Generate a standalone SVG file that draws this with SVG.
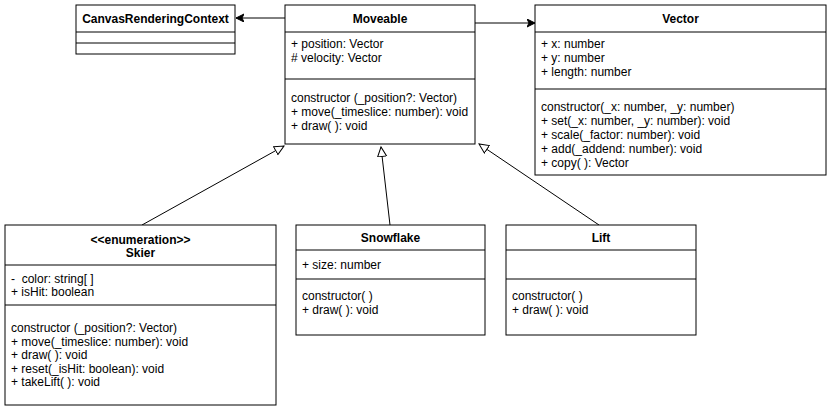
<svg xmlns="http://www.w3.org/2000/svg" width="831" height="414" viewBox="0 0 831 414">
<style>
.box{fill:#fff;stroke:#000;stroke-width:1}
.sep{stroke:#000;stroke-width:1;fill:none}
text{font-family:"Liberation Sans",Arial,sans-serif;font-size:12px;fill:#000;white-space:pre}
.t{font-weight:bold;text-anchor:middle}
.c{stroke:#000;stroke-width:1;fill:none}
</style>
<defs>
<marker id="arr" markerWidth="10" markerHeight="10" refX="8" refY="4" orient="auto" markerUnits="userSpaceOnUse">
<path d="M0,0 L8,4 L0,8 L2,4 Z" fill="#000" stroke="#000"/>
</marker>
<marker id="tri" markerWidth="14" markerHeight="14" refX="10" refY="5" orient="auto" markerUnits="userSpaceOnUse">
<path d="M0.5,0.5 L10,5 L0.5,9.5 Z" fill="#fff" stroke="#000"/>
</marker>
</defs>
<g id="connectors">
<line class="c" x1="285" y1="18" x2="236" y2="18" marker-end="url(#arr)"/>
<line class="c" x1="475" y1="23" x2="535" y2="23" marker-end="url(#arr)"/>
<line class="c" x1="142" y1="225" x2="284" y2="146" marker-end="url(#tri)"/>
<line class="c" x1="390" y1="225" x2="381" y2="147" marker-end="url(#tri)"/>
<line class="c" x1="599" y1="225" x2="479" y2="144" marker-end="url(#tri)"/>
</g>
<g id="CanvasRenderingContext">
<rect class="box" x="76" y="5" width="159" height="49"/>
<line class="sep" x1="76" y1="32" x2="235" y2="32"/>
<line class="sep" x1="76" y1="43" x2="235" y2="43"/>
<text class="t" x="155.5" y="23">CanvasRenderingContext</text>
</g>
<g id="Moveable">
<rect class="box" x="285" y="5" width="190" height="139"/>
<line class="sep" x1="285" y1="32" x2="475" y2="32"/>
<line class="sep" x1="285" y1="79" x2="475" y2="79"/>
<text class="t" x="380" y="23">Moveable</text>
<text x="291" y="48">+ position: Vector</text>
<text x="291" y="62"># velocity: Vector</text>
<text x="291" y="102">constructor (_position?: Vector)</text>
<text x="291" y="116">+ move(_timeslice: number): void</text>
<text x="291" y="130">+ draw( ): void</text>
</g>
<g id="Vector">
<rect class="box" x="535" y="5" width="291" height="170"/>
<line class="sep" x1="535" y1="32" x2="826" y2="32"/>
<line class="sep" x1="535" y1="89" x2="826" y2="89"/>
<text class="t" x="680.5" y="23">Vector</text>
<text x="541" y="48">+ x: number</text>
<text x="541" y="62">+ y: number</text>
<text x="541" y="76">+ length: number</text>
<text x="541" y="111">constructor(_x: number, _y: number)</text>
<text x="541" y="125">+ set(_x: number, _y: number): void</text>
<text x="541" y="139">+ scale(_factor: number): void</text>
<text x="541" y="153">+ add(_addend: number): void</text>
<text x="541" y="167">+ copy( ): Vector</text>
</g>
<g id="Skier">
<rect class="box" x="5" y="225" width="271" height="180"/>
<line class="sep" x1="5" y1="265" x2="276" y2="265"/>
<line class="sep" x1="5" y1="305" x2="276" y2="305"/>
<text class="t" x="140.5" y="244">&lt;&lt;enumeration&gt;&gt;</text>
<text class="t" x="140.5" y="257">Skier</text>
<text x="11" y="283">-&#160; color: string[ ]</text>
<text x="11" y="296">+ isHit: boolean</text>
<text x="11" y="332">constructor (_position?: Vector)</text>
<text x="11" y="345.5">+ move(_timeslice: number): void</text>
<text x="11" y="359">+ draw( ): void</text>
<text x="11" y="372.5">+ reset(_isHit: boolean): void</text>
<text x="11" y="386">+ takeLift( ): void</text>
</g>
<g id="Snowflake">
<rect class="box" x="296" y="225" width="189" height="110"/>
<line class="sep" x1="296" y1="250" x2="485" y2="250"/>
<line class="sep" x1="296" y1="279" x2="485" y2="279"/>
<text class="t" x="390.5" y="242">Snowflake</text>
<text x="302" y="269">+ size: number</text>
<text x="302" y="300">constructor( )</text>
<text x="302" y="314">+ draw( ): void</text>
</g>
<g id="Lift">
<rect class="box" x="506" y="225" width="190" height="110"/>
<line class="sep" x1="506" y1="250" x2="696" y2="250"/>
<line class="sep" x1="506" y1="279" x2="696" y2="279"/>
<text class="t" x="601" y="242">Lift</text>
<text x="512" y="300">constructor( )</text>
<text x="512" y="314">+ draw( ): void</text>
</g>
</svg>
